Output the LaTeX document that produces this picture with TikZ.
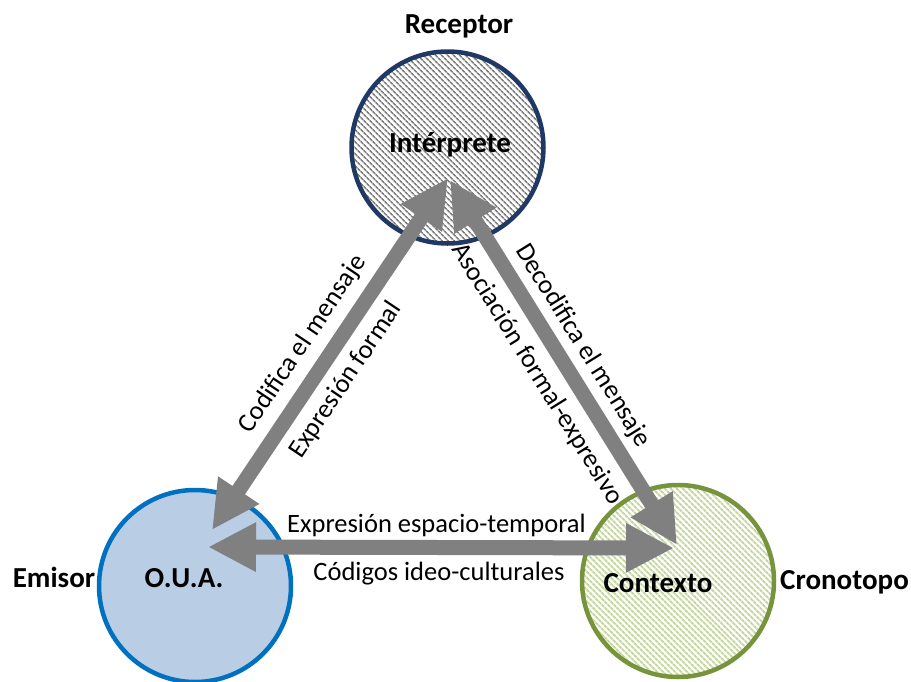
\documentclass[tikz,border=0pt]{standalone}
\usepackage{fontspec}
\setmainfont{Carlito}
\usetikzlibrary{arrows.meta,patterns.meta}
\definecolor{arrowgray}{HTML}{808080}
\definecolor{navy}{HTML}{1F3864}
\definecolor{bluebd}{HTML}{0070C0}
\definecolor{bluefill}{HTML}{B9CDE5}
\definecolor{greenbd}{HTML}{77933C}
\definecolor{greenhatch}{HTML}{C3D69B}
\definecolor{hatchgray}{HTML}{7F7F7F}
\begin{document}
\begin{tikzpicture}[x=1pt,y=-1pt,
  conn/.style={draw=arrowgray, line width=15pt,
    {Triangle[length=48pt,width=46pt]}-{Triangle[length=48pt,width=46pt]}},
  lbl/.style={font=\fontsize{26.5}{30}\selectfont, inner sep=0pt},
  blbl/.style={font=\bfseries\fontsize{29}{32}\selectfont, inner sep=0pt, anchor=base},
  ring/.style={circle, minimum size=192pt, inner sep=0pt, line width=4.5pt},
]
\fill[white] (0,0) rectangle (911,681);
\useasboundingbox (0,0) rectangle (911,681);

% circles
\node[ring, draw=navy, preaction={fill=white},
  pattern={Lines[angle=-45,distance=4pt,line width=1.7pt]}, pattern color=hatchgray] (rec) at (447.5,147.5) {};
\node[ring, draw=bluebd, fill=bluefill] (emi) at (195,586) {};
\node[ring, draw=greenbd, preaction={fill=white},
  pattern={Lines[angle=-45,distance=4pt,line width=2pt]}, pattern color=greenhatch] (con) at (678,581) {};

% arrow end points
\coordinate (l1) at (212,530);
\coordinate (t1) at (448,178);
\coordinate (t2) at (450,180);
\coordinate (r1) at (677,545);
\coordinate (l2) at (208,547);
\coordinate (r2) at (674,548);

\draw[conn] (l1) -- (t1);
\draw[conn] (t2) -- (r1);
\draw[conn] (l2) -- (r2);

% inner labels
\node[blbl] (tint) at (450,152) {Intérprete};
\node[blbl] (toua) at (184,587) {O.U.A.};
\node[blbl] (tcon) at (658,592) {Contexto};
% outer labels
\node[blbl] (trec) at (459,33) {Receptor};
\node[blbl] (temi) at (54,587) {Emisor};
\node[blbl] (tcro) at (844.5,589) {Cronotopo};

% arrow labels
\node[lbl, rotate=56.16] (a1) at (303,344) {Codifica el mensaje};
\node[lbl, rotate=56.16] (a2) at (346,380) {Expresión formal};
\node[lbl, rotate=-58.13] (a3) at (583,346) {Decodifica el mensaje};
\node[lbl, rotate=-58.13] (a4) at (537,374) {Asociación formal-expresivo};
\node[lbl, anchor=base] (a5) at (436.5,532) {Expresión espacio-temporal};
\node[lbl, anchor=base] (a6) at (439,580) {Códigos ideo-culturales};
\end{tikzpicture}
\end{document}
